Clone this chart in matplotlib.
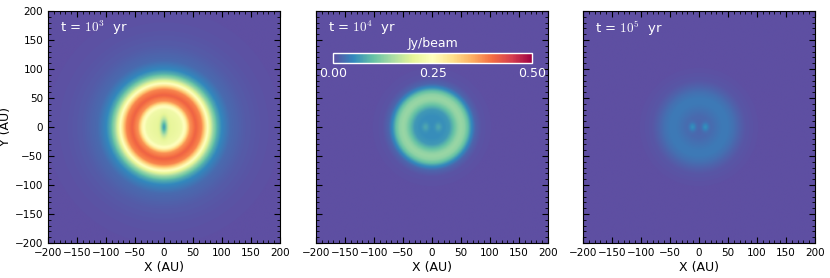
import numpy as np
import matplotlib
matplotlib.use("Agg")
import matplotlib.pyplot as plt
from matplotlib.ticker import MultipleLocator

plt.rcParams['mathtext.fontset'] = 'cm'

# Panel titles (ages)
labels = ["t = $10^3$  yr", "t = $10^4$  yr", "t = $10^5$  yr"]

# Radial intensity profiles (radius in AU, Jy/beam)
r_1e3 = [0, 10, 20, 30, 38, 45, 55, 65, 72, 78, 85, 92, 100, 115, 140, 170, 200, 300]
v_1e3 = [0.20, 0.205, 0.21, 0.22, 0.27, 0.37, 0.41, 0.38, 0.29, 0.22, 0.14, 0.085, 0.05, 0.025, 0.012, 0.005, 0.002, 0.0]

r_1e4 = [0, 10, 20, 30, 38, 45, 50, 56, 62, 68, 75, 85, 100, 200, 300]
v_1e4 = [0.055, 0.055, 0.056, 0.065, 0.10, 0.13, 0.138, 0.13, 0.10, 0.055, 0.02, 0.006, 0.002, 0.0, 0.0]

r_1e5 = [0, 10, 20, 30, 40, 50, 60, 70, 80, 100, 200, 300]
v_1e5 = [0.022, 0.022, 0.025, 0.032, 0.038, 0.038, 0.03, 0.018, 0.008, 0.002, 0.0, 0.0]

# Central features: (x0, y0, sigma_x, sigma_y, amplitude)
center_1e3 = [(0, 0, 4, 10, -0.13)]
center_1e4 = [(-11, 0, 4, 5, 0.022), (11, 0, 4, 5, 0.022)]
center_1e5 = [(-11, 0, 4, 5, 0.035), (11, 0, 4, 5, 0.035)]

profiles = [(r_1e3, v_1e3, center_1e3),
            (r_1e4, v_1e4, center_1e4),
            (r_1e5, v_1e5, center_1e5)]

# grid for the maps
x = np.linspace(-200, 200, 401)
X, Y = np.meshgrid(x, x)
R = np.hypot(X, Y)

def make_map(r, v, feats):
    img = np.interp(R, r, v)
    for x0, y0, sx, sy, amp in feats:
        img = img + amp * np.exp(-((X - x0)**2 / (2*sx**2) + (Y - y0)**2 / (2*sy**2)))
    return np.clip(img, 0, None)

fig = plt.figure(figsize=(8.3, 2.78), dpi=100)
lefts = [48/830, 316/830, 583/830]
w = 232/830
b = 1 - 243/278
h = 232/278

axes = []
for i, (r, v, feats) in enumerate(profiles):
    ax = fig.add_axes([lefts[i], b, w, h])
    im = ax.imshow(make_map(r, v, feats), origin='lower', extent=[-200, 200, -200, 200],
                   cmap='Spectral_r', vmin=0, vmax=0.5, interpolation='bilinear')
    ax.set_xlim(-200, 200)
    ax.set_ylim(-200, 200)
    ax.xaxis.set_major_locator(MultipleLocator(50))
    ax.yaxis.set_major_locator(MultipleLocator(50))
    ax.xaxis.set_minor_locator(MultipleLocator(10))
    ax.yaxis.set_minor_locator(MultipleLocator(10))
    ax.tick_params(which='both', direction='in', top=True, right=True, labelsize=7.5)
    ax.tick_params(which='major', length=4, width=0.8)
    ax.tick_params(which='minor', length=2, width=0.6)
    ax.set_xlabel("X (AU)", fontsize=9, labelpad=2)
    if i == 0:
        ax.set_ylabel("Y (AU)", fontsize=9, labelpad=2)
    else:
        ax.set_yticklabels([])
    ax.text(0.05, 0.965, labels[i], transform=ax.transAxes, color='white',
            fontsize=9.5, va='top', ha='left')
    axes.append(ax)

# colorbar inside middle panel
cax = axes[1].inset_axes([0.074, 0.776, 0.857, 0.045])
cb = fig.colorbar(im, cax=cax, orientation='horizontal', ticks=[0, 0.25, 0.5])
cb.ax.set_xticklabels(["0.00", "0.25", "0.50"])
cb.ax.tick_params(colors='white', labelsize=9, length=0, pad=3)
cb.outline.set_edgecolor('white')
cb.outline.set_linewidth(1)
cb.ax.set_title("Jy/beam", color='white', fontsize=9, pad=4)

fig.savefig("out.png", dpi=100)
